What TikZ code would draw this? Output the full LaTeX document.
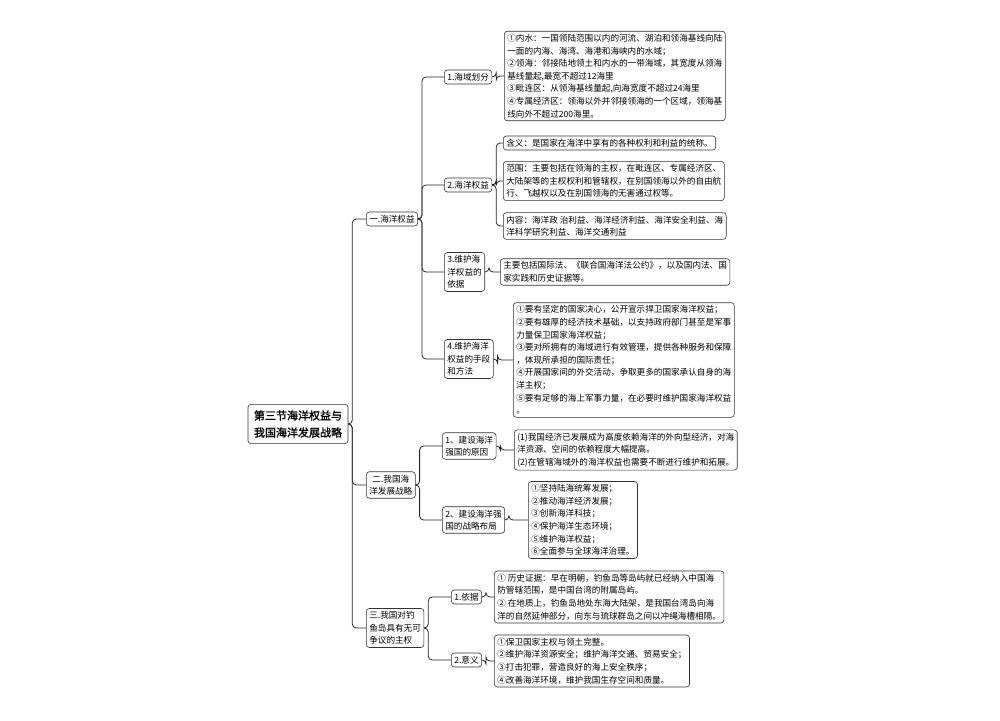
\documentclass[tikz,border=0pt]{standalone}
\usepackage{fontspec}
\setmainfont[AutoFakeBold=1.5]{Noto Sans CJK SC}
\usetikzlibrary{positioning}

\begin{document}
\begin{tikzpicture}[x=1pt,y=-1pt,
                    branch/.style={draw=black!85,line width=0.8pt,rounded corners=4pt},
                    topic/.style={draw=black!80,rounded corners=3pt,line width=0.6pt,
                      fill=white,inner sep=3pt,align=left,font=\fontsize{8.6}{12.5}\selectfont},
                    leaf/.style={topic,font=\fontsize{8.6}{12.6}\selectfont}]
  \useasboundingbox (0,0) rectangle (1000,720);

  \node[topic,align=center,inner sep=6pt,font=\fontsize{11}{17}\selectfont\bfseries] (root) at (298,424) {第三节海洋权益与\\我国海洋发展战略};

  \node[topic,anchor=west] (A) at (366,219) {一.海洋权益};
  \node[topic,anchor=west,align=center] (B) at (366,485) {二.我国海\\洋发展战略};
  \node[topic,anchor=west] (C) at (366,628) {三.我国对钓\\鱼岛具有无可\\争议的主权};

  \node[topic,anchor=west] (A1) at (444,77) {1.海域划分};
  \node[topic,anchor=west] (A2) at (444,185) {2.海洋权益};
  \node[topic,anchor=west] (A3) at (444,272) {3.维护海\\洋权益的\\依据};
  \node[topic,anchor=west] (A4) at (444,359) {4.维护海洋\\权益的手段\\和方法};

  \node[leaf,anchor=west] (A1a) at (504,76) {①内水：一国领陆范围以内的河流、湖泊和领海基线向陆\\一面的内海、海湾、海港和海峡内的水域；\\②领海：邻接陆地领土和内水的一带海域，其宽度从领海\\基线量起,最宽不超过12海里\\③毗连区：从领海基线量起,向海宽度不超过24海里\\④专属经济区：领海以外并邻接领海的一个区域，领海基\\线向外不超过200海里。};
  \node[leaf,anchor=west] (A2a) at (503,143) {含义：是国家在海洋中享有的各种权利和利益的统称。};
  \node[leaf,anchor=west] (A2b) at (503,181) {范围：主要包括在领海的主权，在毗连区、专属经济区、\\大陆架等的主权权利和管辖权，在别国领海以外的自由航\\行、飞越权以及在别国领海的无害通过权等。};
  \node[leaf,anchor=west] (A2c) at (503,226) {内容：海洋政 治利益、海洋经济利益、海洋安全利益、海\\洋科学研究利益、海洋交通利益};
  \node[leaf,anchor=west] (A3a) at (500,272) {主要包括国际法、《联合国海洋法公约》，以及国内法、国\\家实践和历史证据等。};
  \node[leaf,anchor=west] (A4a) at (513,360) {①要有坚定的国家决心，公开宣示捍卫国家海洋权益；\\②要有雄厚的经济技术基础，以支持政府部门甚至是军事\\力量保卫国家海洋权益；\\③要对所拥有的海域进行有效管理，提供各种服务和保障\\，体现所承担的国际责任；\\④开展国家间的外交活动，争取更多的国家承认自身的海\\洋主权；\\⑤要有足够的海上军事力量，在必要时维护国家海洋权益\\。};

  \node[topic,anchor=west] (B1) at (442,446) {1、建设海洋\\强国的原因};
  \node[topic,anchor=west] (B2) at (442,520) {2、建设海洋强\\国的战略布局};
  \node[leaf,anchor=west] (B1a) at (514,450) {(1)我国经济已发展成为高度依赖海洋的外向型经济，对海\\洋资源、空间的依赖程度大幅提高。\\(2)在管辖海域外的海洋权益也需要不断进行维护和拓展。};
  \node[leaf,anchor=west] (B2a) at (528,520) {①坚持陆海统筹发展；\\②推动海洋经济发展；\\③创新海洋科技；\\④保护海洋生态环境；\\⑤维护海洋权益；\\⑥全面参与全球海洋治理。};

  \node[topic,anchor=west] (C1) at (451,597) {1.依据};
  \node[topic,anchor=west] (C2) at (451,660) {2.意义};
  \node[leaf,anchor=west] (C1a) at (494,597) {① 历史证据：早在明朝，钓鱼岛等岛屿就已经纳入中国海\\防管辖范围，是中国台湾的附属岛屿。\\② 在地质上，钓鱼岛地处东海大陆架，是我国台湾岛向海\\洋的自然延伸部分，向东与琉球群岛之间以冲绳海槽相隔。};
  \node[leaf,anchor=west] (C2a) at (494,661) {①保卫国家主权与领土完整。\\②维护海洋资源安全；维护海洋交通、贸易安全；\\③打击犯罪，营造良好的海上安全秩序；\\④改善海洋环境，维护我国生存空间和质量。};

  % connectors
  \foreach \p/\c in {root/A,root/B,root/C,A/A1,A/A2,A/A3,A/A4,A1/A1a,A2/A2a,A2/A2b,A2/A2c,
                     A3/A3a,A4/A4a,B/B1,B/B2,B1/B1a,B2/B2a,C/C1,C/C2,C1/C1a,C2/C2a}
    \draw[branch] (\p.east) -- ++(4,0) |- (\c.west);
\end{tikzpicture}
\end{document}
